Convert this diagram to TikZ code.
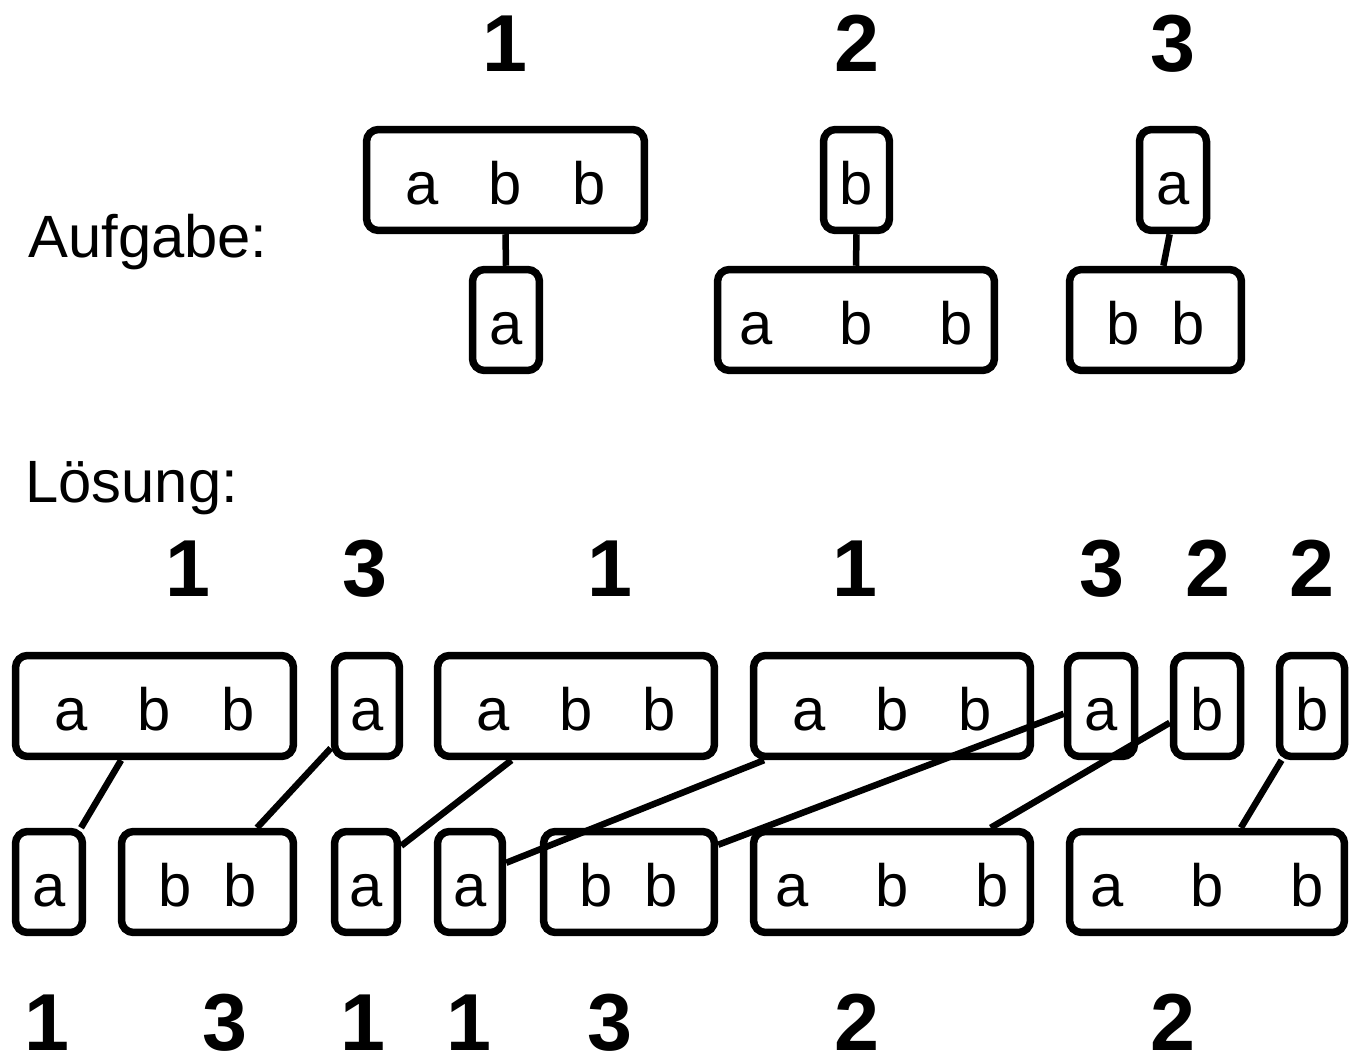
\documentclass[tikz,border=0pt]{standalone}
\usepackage{fontspec}
\setmainfont{Liberation Sans}
\usetikzlibrary{calc}
\newcommand{\gN}{\hspace{1cm}}
\newcommand{\gW}{\hspace{1.34cm}}
\newcommand{\gB}{\hspace{0.64cm}}
\tikzset{
  sbox/.style={draw, line width=0.15cm, rounded corners=0.24cm, inner sep=0pt,
    text height=1cm, text depth=0pt, minimum height=2.02cm,
    font=\fontsize{34}{40}\selectfont},
  conn/.style={line width=0.13cm},
  num/.style={font=\fontsize{46}{50}\selectfont\bfseries, anchor=base, inner sep=0pt},
  lbl/.style={font=\fontsize{34}{40}\selectfont, anchor=base west, inner sep=0pt}
}
\begin{document}
\begin{tikzpicture}[x=0.02cm, y=-0.02cm]
\useasboundingbox (0,0) rectangle (1350,1060);

% labels
\node[lbl] (aufg) at (28,258) {Aufgabe:};
\node[lbl] (loes) at (25,503) {Lösung:};

% top numbers
\node[num] (h1) at (505,72) {1};
\node[num] (h2) at (857,72) {2};
\node[num] (h3) at (1173,72) {3};

% task dominoes
\node[sbox, minimum width=5.56cm] (A1) at (505.5,180) {a\gN b\gN b};
\node[sbox, minimum width=1.34cm] (A1b) at (506,320) {a};
\node[sbox, minimum width=1.32cm] (A2) at (856.5,180) {b};
\node[sbox, minimum width=5.54cm] (A2b) at (856,320) {a\gW b\gW b};
\node[sbox, minimum width=1.34cm] (A3) at (1173,180) {a};
\node[sbox, minimum width=3.44cm] (A3b) at (1155.5,320) {b\gB b};

\draw[conn] (A1.south) -- (A1b.north);
\draw[conn] (A2.south) -- (A2b.north);
\draw[conn] ($(A3.south west)!0.455!(A3.south east)$) -- ($(A3b.north west)!0.544!(A3b.north east)$);

% solution numbers (upper)
\node[num] (u1) at (188,597) {1};
\node[num] (u2) at (365,597) {3};
\node[num] (u3) at (610,597) {1};
\node[num] (u4) at (855,597) {1};
\node[num] (u5) at (1102,597) {3};
\node[num] (u6) at (1208,597) {2};
\node[num] (u7) at (1312,597) {2};

% solution upper row
\node[sbox, minimum width=5.56cm] (T1) at (154.5,706) {a\gN b\gN b};
\node[sbox, minimum width=1.30cm] (T2) at (367,706) {a};
\node[sbox, minimum width=5.54cm] (T3) at (576,706) {a\gN b\gN b};
\node[sbox, minimum width=5.54cm] (T4) at (892,706) {a\gN b\gN b};
\node[sbox, minimum width=1.34cm] (T5) at (1101,706) {a};
\node[sbox, minimum width=1.34cm] (T6) at (1207,706) {b};
\node[sbox, minimum width=1.30cm] (T7) at (1312,706) {b};

% solution lower row
\node[sbox, minimum width=1.34cm] (B1) at (49,882) {a};
\node[sbox, minimum width=3.44cm] (B2) at (207.5,882) {b\gB b};
\node[sbox, minimum width=1.26cm] (B3) at (366,882) {a};
\node[sbox, minimum width=1.30cm] (B4) at (470,882) {a};
\node[sbox, minimum width=3.42cm] (B5) at (629,882) {b\gB b};
\node[sbox, minimum width=5.54cm] (B6) at (892,882) {a\gW b\gW b};
\node[sbox, minimum width=5.50cm] (B7) at (1207,882) {a\gW b\gW b};

% connectors
\draw[conn] ($(T1.south west)!0.383!(T1.south east)$) -- ($(B1.north west)!0.93!(B1.north east)$);
\draw[conn] ($(T2.south west)+(0,-12)$) -- ($(B2.north west)!0.776!(B2.north east)$);
\draw[conn] ($(T3.south west)!0.273!(T3.south east)$) -- ($(B3.north east)+(0,18)$);
\draw[conn] ($(T4.south west)!0.05!(T4.south east)$) -- ($(B4.north east)+(0,35)$);
\draw[conn] ($(T5.north west)+(0,62)$) -- ($(B5.north east)+(0,17)$);
\draw[conn] ($(T6.north west)+(0,71)$) -- ($(B6.north west)!0.847!(B6.north east)$);
\draw[conn] ($(T7.south west)!0.08!(T7.south east)$) -- ($(B7.north west)!0.62!(B7.north east)$);

% bottom numbers
\node[num] (l1) at (47,1050) {1};
\node[num] (l2) at (225,1050) {3};
\node[num] (l3) at (363,1050) {1};
\node[num] (l4) at (469,1050) {1};
\node[num] (l5) at (610,1050) {3};
\node[num] (l6) at (857,1050) {2};
\node[num] (l7) at (1173,1050) {2};
\end{tikzpicture}
\end{document}
